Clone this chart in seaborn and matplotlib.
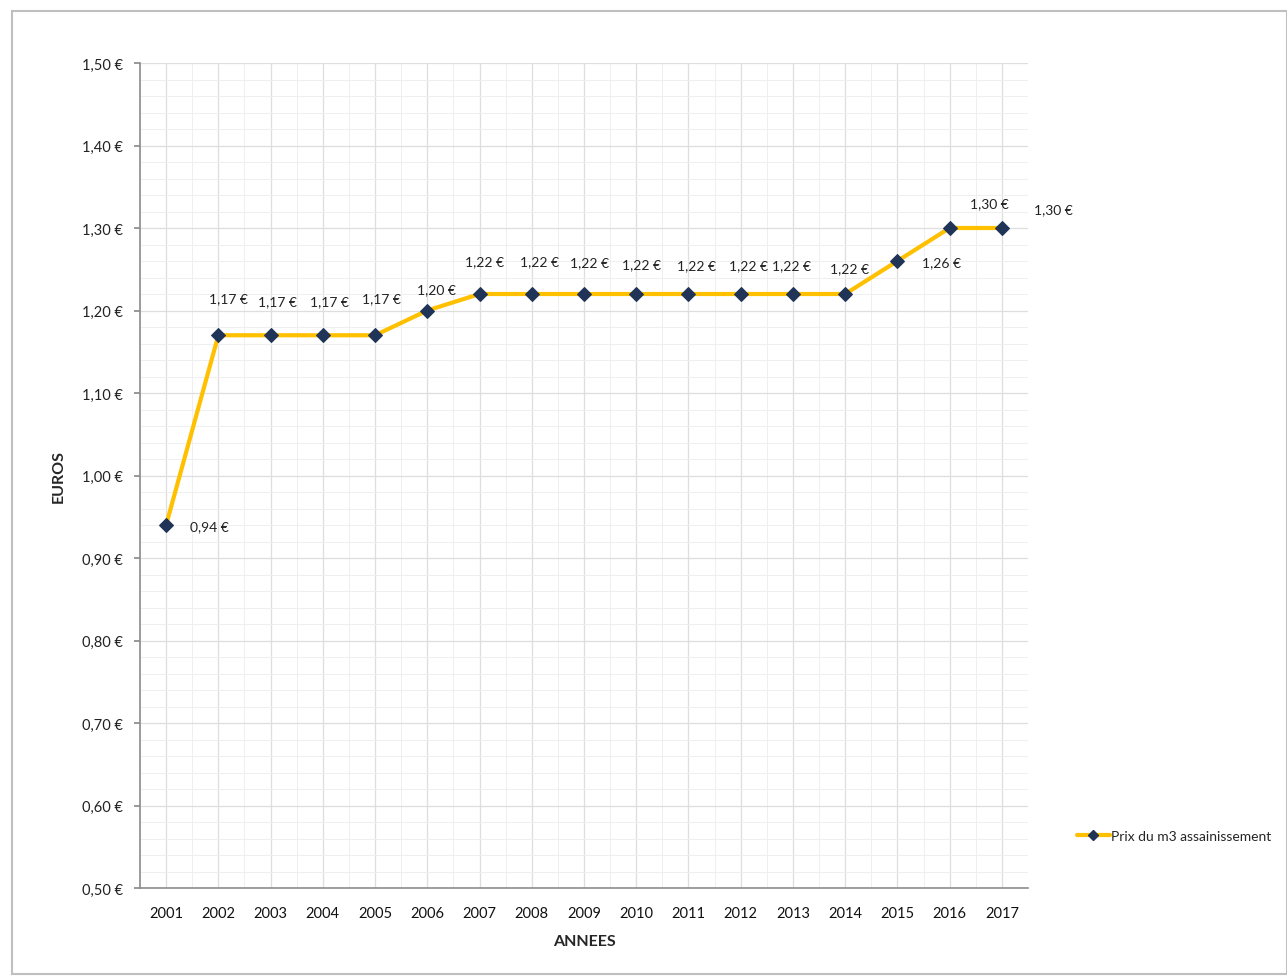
import matplotlib
matplotlib.use("Agg")
import matplotlib.pyplot as plt
import matplotlib.patches as mpatches
from matplotlib.lines import Line2D
from matplotlib.ticker import MultipleLocator, FuncFormatter
import seaborn as sns
import pandas as pd

years = list(range(2001, 2018))
prix = [0.94, 1.17, 1.17, 1.17, 1.17, 1.20, 1.22, 1.22, 1.22, 1.22,
        1.22, 1.22, 1.22, 1.22, 1.26, 1.30, 1.30]
serie = "Prix du m3 assainissement"

# label offsets (pixels) relative to each point
offsets = [(43, -1), (10, 37), (7, 34), (7, 34), (6, 37), (9, 21),
           (5, 33), (8, 33), (5, 32), (5, 30), (8, 29), (8, 29), (-1, 29),
           (4, 26), (44, -1), (40, 25), (51, 19)]

df = pd.DataFrame({"annee": years, "prix": prix})

sns.set_theme(style="white")
plt.rcParams["font.family"] = ["Lato", "DejaVu Sans"]

fig = plt.figure(figsize=(12.87, 9.79), dpi=100)
ax = fig.add_axes([140 / 1287, 1 - 889 / 979, (1028 - 140) / 1287, (889 - 64) / 979])

line_col = "#FFC000"
mark_col = "#1F3457"

sns.lineplot(data=df, x="annee", y="prix", ax=ax, color=line_col, linewidth=3,
             marker="D", markersize=7, markerfacecolor=mark_col,
             markeredgecolor=mark_col, legend=False)

def euro(v, pos=None):
    return f"{v:.2f} €".replace(".", ",")

for x, y, (dx, dy) in zip(years, prix, offsets):
    ax.annotate(euro(y), (x, y), xytext=(dx, dy), textcoords="offset pixels",
                ha="center", va="center", fontsize=10, color="#222222")

ax.set_xlim(2000.5, 2017.5)
ax.set_ylim(0.5, 1.5)
ax.set_xticks(years)
ax.xaxis.set_minor_locator(MultipleLocator(0.5))
ax.yaxis.set_major_locator(MultipleLocator(0.1))
ax.yaxis.set_minor_locator(MultipleLocator(0.02))
ax.yaxis.set_major_formatter(FuncFormatter(euro))

ax.grid(which="major", color="#dedede", linewidth=0.9)
ax.grid(which="minor", color="#efefef", linewidth=0.7)
ax.set_axisbelow(True)

for side in ["top", "right"]:
    ax.spines[side].set_visible(False)
for side in ["left", "bottom"]:
    ax.spines[side].set_color("#8c8c8c")
    ax.spines[side].set_linewidth(1.2)

ax.tick_params(axis="y", which="major", left=True, length=4, color="#8c8c8c",
               labelsize=10.5, labelcolor="#222222", pad=8)
ax.tick_params(axis="x", which="major", bottom=False, labelsize=10.5,
               labelcolor="#111111", pad=7)

ax.set_xlabel("ANNEES", fontsize=11.5, fontweight="bold", labelpad=10)
ax.set_ylabel("EUROS", fontsize=11.5, fontweight="bold", labelpad=12)

handle = Line2D([], [], color=line_col, linewidth=3, marker="D", markersize=5,
                markerfacecolor=mark_col, markeredgecolor=mark_col)
fig.legend([handle], [serie], loc="center left",
           bbox_to_anchor=(1064 / 1287, 1 - 837 / 979), frameon=False,
           fontsize=10, handlelength=2.4, handletextpad=0.1)

fig.patches.append(mpatches.Rectangle((12 / 1287, 4 / 979), 1 - 12 / 1287, 1 - 16 / 979,
                                      transform=fig.transFigure, fill=False,
                                      edgecolor="#bfbfbf", linewidth=1.5))

fig.savefig("out.png", dpi=100, facecolor="white")
